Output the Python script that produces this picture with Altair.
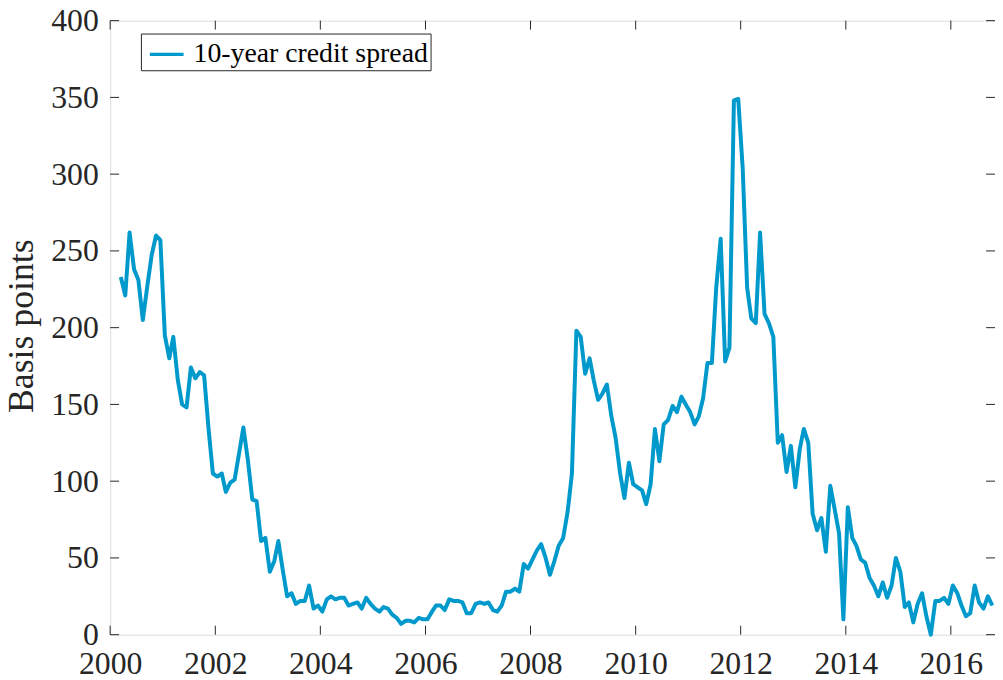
import altair as alt
import pandas as pd

# ---- data (monthly, mid-month, Mar 2000 - Oct 2016) ----
start_month = "2000-03"
spread_bp = [
    233, 221, 262, 238, 231, 205, 227, 247, 260, 257,            # 2000 Mar-Dec
    195, 180, 194, 166, 150, 148, 174, 167, 171, 169, 134, 105,  # 2001
    103, 105, 93, 99, 101, 118, 135, 114, 88, 87, 61, 63,        # 2002
    41, 48, 61, 42, 25, 27, 20, 22, 22, 32, 17, 19,              # 2003
    15, 23, 25, 23, 24, 24, 19, 20, 21, 17, 24, 20,              # 2004
    17, 15, 18, 17, 13, 11, 7, 9, 9, 8, 11, 10,                  # 2005
    10, 15, 19, 19, 16, 23, 22, 22, 21, 14, 14, 20,              # 2006
    21, 20, 21, 16, 15, 19, 28, 28, 30, 28, 46, 43,              # 2007
    49, 55, 59, 50, 39, 48, 58, 63, 80, 105, 198, 194,           # 2008
    170, 180, 166, 153, 157, 163, 143, 128, 105, 89, 112, 98,    # 2009
    96, 94, 85, 98, 134, 113, 137, 140, 149, 145, 155, 150,      # 2010
    145, 137, 142, 154, 177, 177, 226, 258, 178, 187, 348, 349,  # 2011
    304, 226, 206, 203, 262, 209, 203, 194, 125, 130, 106, 123,  # 2012
    96, 121, 134, 125, 79, 68, 76, 54, 97, 82, 66, 10,           # 2013
    83, 63, 58, 49, 47, 37, 32, 25, 34, 24, 32, 50,              # 2014
    41, 18, 21, 8, 20, 27, 12, 0, 22, 22, 24, 20,                # 2015
    32, 27, 19, 12, 14, 32, 21, 17, 25, 19,                      # 2016 Jan-Oct
]
series_name = "10-year credit spread"
y_ticks = [0, 50, 100, 150, 200, 250, 300, 350, 400]
x_tick_years = [2000, 2002, 2004, 2006, 2008, 2010, 2012, 2014, 2016]

months = pd.period_range(start_month, periods=len(spread_bp), freq="M")
dates = [f"{p.year:04d}-{p.month:02d}-15" for p in months]
df = pd.DataFrame({"date": dates, "value": spread_bp, "series": series_name})
ytick_df = pd.DataFrame({"value": y_ticks})
xtick_df = pd.DataFrame({"date": [f"{y}-01-01" for y in x_tick_years]})

FONT = "Liberation Serif"
AX = "#262626"
W, H = 892, 619
TL = 9  # inward tick length

xscale = alt.Scale(type="utc", domain=[alt.DateTime(year=2000, month=1, date=1, utc=True),
                                       alt.DateTime(year=2016, month=11, date=3, utc=True)])
yscale = alt.Scale(domain=[0, 400], nice=False, zero=False)

xaxis = alt.Axis(values=[alt.DateTime(year=y, month=1, date=1, utc=True) for y in x_tick_years],
                 format="%Y", formatType="utc", ticks=False, domain=False, grid=False,
                 labelFont=FONT, labelFontSize=32, labelColor=AX, labelPadding=14,
                 labelFlush=False, labelOverlap=False, title=None)
yaxis = alt.Axis(values=y_ticks, ticks=False, domain=False, grid=False,
                 labelFont=FONT, labelFontSize=32, labelColor=AX, labelPadding=12,
                 labelOverlap=False, title="Basis points", titleFont=FONT, titleFontSize=36,
                 titleFontWeight="normal", titleColor=AX, titleX=-78, titleY=H / 2 - 2,
                 titleBaseline="alphabetic", titleAngle=270)

X = alt.X("date:T", scale=xscale, axis=xaxis)
Y = alt.Y("value:Q", scale=yscale, axis=yaxis)

tick_style = dict(color=AX, strokeWidth=1)
left_ticks = alt.Chart(ytick_df).mark_rule(**tick_style).encode(
    y=Y, x=alt.value(0), x2=alt.value(TL))
right_ticks = alt.Chart(ytick_df).mark_rule(**tick_style).encode(
    y=Y, x=alt.value(W - TL), x2=alt.value(W))
bottom_ticks = alt.Chart(xtick_df).mark_rule(**tick_style).encode(
    x=X, y=alt.value(H - TL), y2=alt.value(H))
top_ticks = alt.Chart(xtick_df).mark_rule(**tick_style).encode(
    x=X, y=alt.value(0), y2=alt.value(TL))

line = alt.Chart(df).mark_line(strokeWidth=4, strokeJoin="round").encode(
    x=X, y=Y,
    color=alt.Color("series:N", scale=alt.Scale(range=["#0099cc"]),
                    legend=alt.Legend(orient="none", legendX=31, legendY=13, title=None,
                                      symbolType="stroke", symbolSize=1156,
                                      symbolStrokeWidth=3.5, labelFont=FONT,
                                      labelFontSize=28, labelColor="black", labelLimit=500,
                                      labelOffset=8, padding=2, strokeColor=AX,
                                      fillColor="white", symbolOffset=5)),
)

chart = alt.layer(left_ticks, right_ticks, bottom_ticks, top_ticks, line).properties(
    width=W, height=H,
    autosize=alt.AutoSizeParams(type="none"),
    padding={"left": 103, "top": 10, "right": 0, "bottom": 50},
).configure_view(stroke=AX, strokeWidth=1).configure(background="white")

chart.save("out.html", embed_options={"renderer": "svg", "actions": False})
